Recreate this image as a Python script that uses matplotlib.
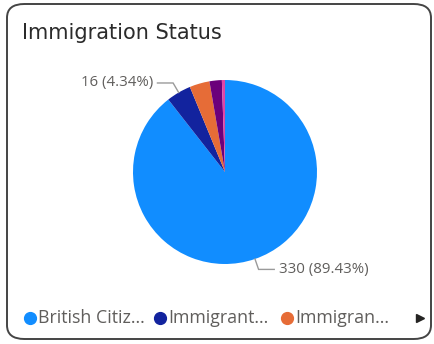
import matplotlib.pyplot as plt
from matplotlib.patches import FancyBboxPatch
import numpy as np

# immigration status counts, drawn clockwise from 12 o'clock
categories = ["British Citizen", "Immigrant (Settled)", "Immigrant (Pre-settled)",
              "Immigrant (Visa)", "Other"]
counts = [330, 16, 13, 8, 2]
colors = ["#118DFF", "#12239E", "#E66C37", "#6B007B", "#E044A7"]
legend_labels = ["British Citiz...", "Immigrant...", "Immigran..."]
labelled = [1, 0]  # slices that get a data label

W, H = 434, 344
fig = plt.figure(figsize=(W / 100, H / 100), dpi=100)

# card background with rounded border
card = FancyBboxPatch((7 / W, 5 / H), 424 / W, 335 / H,
                      boxstyle="round,pad=0,rounding_size=0.04",
                      transform=fig.transFigure, facecolor="white",
                      edgecolor="#444444", linewidth=1.4, zorder=-10)
fig.patches.append(card)

fig.text(22 / W, 1 - 39 / H, "Immigration Status", fontsize=15,
         color="#2b2b2b", family="DejaVu Sans", va="baseline")

# pie axes, centre (225,172) px, radius 92 px
cx, cy, r = 225, 172, 92
ax = fig.add_axes([(cx - r) / W, (H - cy - r) / H, 2 * r / W, 2 * r / H])
ax.patch.set_alpha(0)
wedges, _ = ax.pie(counts, colors=colors, startangle=90, counterclock=False,
                   radius=1, wedgeprops=dict(linewidth=0))
ax.set_xlim(-1, 1)
ax.set_ylim(-1, 1)
ax.set_aspect("equal")
ax.axis("off")

total = sum(counts)
for i in labelled:
    w = wedges[i]
    mid = np.deg2rad((w.theta1 + w.theta2) / 2)
    x0, y0 = np.cos(mid) * 1.0, np.sin(mid) * 1.0
    x1, y1 = np.cos(mid) * 1.12, np.sin(mid) * 1.12
    side = 1 if x1 > 0 else -1
    x2 = x1 + side * 0.17
    ax.plot([x0, x1, x2], [y0, y1, y1], color="#9a9a9a", lw=1,
            clip_on=False, solid_joinstyle="miter")
    txt = f"{counts[i]} ({counts[i] / total * 100:.2f}%)"
    ax.text(x2 + side * 0.05, y1, txt, fontsize=10.8, color="#605E5C",
            family="Open Sans", ha="left" if side > 0 else "right",
            va="center", clip_on=False)

# legend row
ly = 1 - 318 / H
xs = [30, 160, 287]
for xpos, lab, col in zip(xs, legend_labels, colors):
    fig.lines.append(plt.Line2D([xpos / W], [ly], marker="o", markersize=8.5,
                                color=col, transform=fig.transFigure))
    fig.text((xpos + 8) / W, ly, lab, fontsize=12.8, color="#605E5C",
             family="Open Sans", va="center")
fig.lines.append(plt.Line2D([420 / W], [ly], marker=">", markersize=6,
                            color="#252423", transform=fig.transFigure))

fig.savefig("out.png", dpi=100)
